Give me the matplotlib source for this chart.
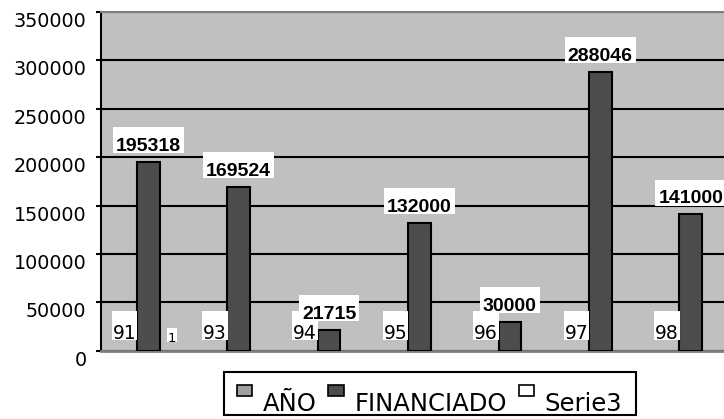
import numpy as np
import matplotlib
matplotlib.use("Agg")
import matplotlib.pyplot as plt
from matplotlib.path import Path
from matplotlib.patches import Rectangle, Patch
from matplotlib.legend_handler import HandlerPatch

# ---- data ----
years = ["91", "93", "94", "95", "96", "97", "98"]
ano = [91, 93, 94, 95, 96, 97, 98]
financiado = [195318, 169524, 21715, 132000, 30000, 288046, 141000]
serie3 = [1, np.nan, np.nan, np.nan, np.nan, np.nan, np.nan]
series_names = ["AÑO", "FINANCIADO", "Serie3"]
yticks = [0, 50000, 100000, 150000, 200000, 250000, 300000, 350000]

C_ANO = "#a0a0a0"
C_FIN = "#4d4d4d"
C_S3 = "#ffffff"
PLOT_BG = "#c0c0c0"

W, H = 724, 419
fig = plt.figure(figsize=(W / 100, H / 100), dpi=100)

left_px, right_px, top_px, bot_px = 101, 733, 12, 350.7
ax = fig.add_axes([left_px / W, (H - bot_px) / H,
                   (right_px - left_px) / W, (bot_px - top_px) / H])
ax.set_facecolor(PLOT_BG)

x = np.arange(len(years))
bw = 0.252
off = 0.265

ax.bar(x - off, ano, bw, color=C_ANO, linewidth=0, zorder=3)
ax.bar(x, financiado, bw, color=C_FIN, edgecolor="black", linewidth=1.5, zorder=3)
ax.bar(x + off, np.nan_to_num(serie3), bw, color=C_S3, linewidth=0, zorder=3)

ax.set_xlim(-0.523, (right_px - 148.3) / 90.4)
ax.set_ylim(0, 350000)
ax.set_yticks(yticks)
ax.set_yticklabels([str(v) for v in yticks])
ax.set_xticks([])
ax.yaxis.grid(True, color="black", linewidth=1.5, zorder=1)
ax.set_axisbelow(True)
ax.tick_params(axis="y", direction="out", length=3.5, width=1.5, pad=7,
               labelsize=13.8, colors="black")
for lbl in ax.get_yticklabels():
    lbl.set_va("top")
    lbl.set_family("DejaVu Sans")

ax.spines["left"].set_color("black")
ax.spines["left"].set_linewidth(1.5)
ax.spines["bottom"].set_color("#808080")
ax.spines["bottom"].set_linewidth(2)
ax.spines["top"].set_color("#808080")
ax.spines["top"].set_linewidth(1.5)
ax.spines["right"].set_visible(False)


def make_box(side, bottom_cut, top_extra):
    def box(x0, y0, width, height, mutation_size):
        s = mutation_size
        l = x0 - side * s
        r = x0 + width + side * s
        b = y0 + bottom_cut * s
        t = y0 + height + top_extra * s
        return Path([(l, b), (r, b), (r, t), (l, t), (l, b)],
                    [Path.MOVETO, Path.LINETO, Path.LINETO, Path.LINETO, Path.CLOSEPOLY])
    return box


year_box = make_box(0.05, 0.19, 0.72)
bold_box = make_box(0.15, 0.09, 0.56)
small_box = make_box(0.05, 0.19, 0.3)

for i in range(len(years)):
    ax.annotate(str(ano[i]), (x[i] - off, ano[i]), xytext=(0, 8.3),
                textcoords="offset points", ha="center", va="baseline",
                fontsize=13.5, family="DejaVu Sans",
                bbox=dict(boxstyle=year_box, fc="white", ec="none"), zorder=4)
    if not np.isnan(serie3[i]):
        ax.annotate(str(int(serie3[i])), (x[i] + off, serie3[i]), xytext=(0, 6.5),
                    textcoords="offset points", ha="center", va="baseline",
                    fontsize=9.5, family="DejaVu Sans",
                    bbox=dict(boxstyle=small_box, fc="white", ec="none"), zorder=4)
for i in range(len(years)):
    ax.annotate(str(financiado[i]), (x[i], financiado[i]), xytext=(0, 7.8),
                textcoords="offset points", ha="center", va="baseline",
                fontsize=14, fontweight="bold", family="Liberation Sans",
                bbox=dict(boxstyle=bold_box, fc="white", ec="none"), zorder=5,
                annotation_clip=False)

# ---- legend ----
LFS = 17.5


def marker_patch(legend, orig_handle, xdescent, ydescent, width, height, fontsize):
    return Rectangle((0, 0.62 * fontsize), 0.64 * fontsize, 0.43 * fontsize)


handles = [Patch(facecolor=c, edgecolor="black", linewidth=1.2)
           for c in (C_ANO, C_FIN, C_S3)]
baseline_px = 410
desc_px = 0.236 * LFS * 100 / 72
leg = fig.legend(handles, series_names, loc="lower center",
                 bbox_to_anchor=(429.5 / W, (H - baseline_px - desc_px) / H),
                 bbox_transform=fig.transFigure,
                 ncol=3, frameon=False,
                 prop={"family": "DejaVu Sans", "size": LFS},
                 handlelength=0.64, handleheight=0.7, handletextpad=0.42,
                 columnspacing=0.5, borderpad=0, borderaxespad=0,
                 handler_map={Patch: HandlerPatch(patch_func=marker_patch)})

fig.add_artist(Rectangle((224 / W, 1 - 415.3 / H), 412 / W, 43.3 / H,
                         transform=fig.transFigure, fill=False,
                         edgecolor="black", linewidth=1.5))

fig.savefig("out.png", dpi=100, facecolor="white")
